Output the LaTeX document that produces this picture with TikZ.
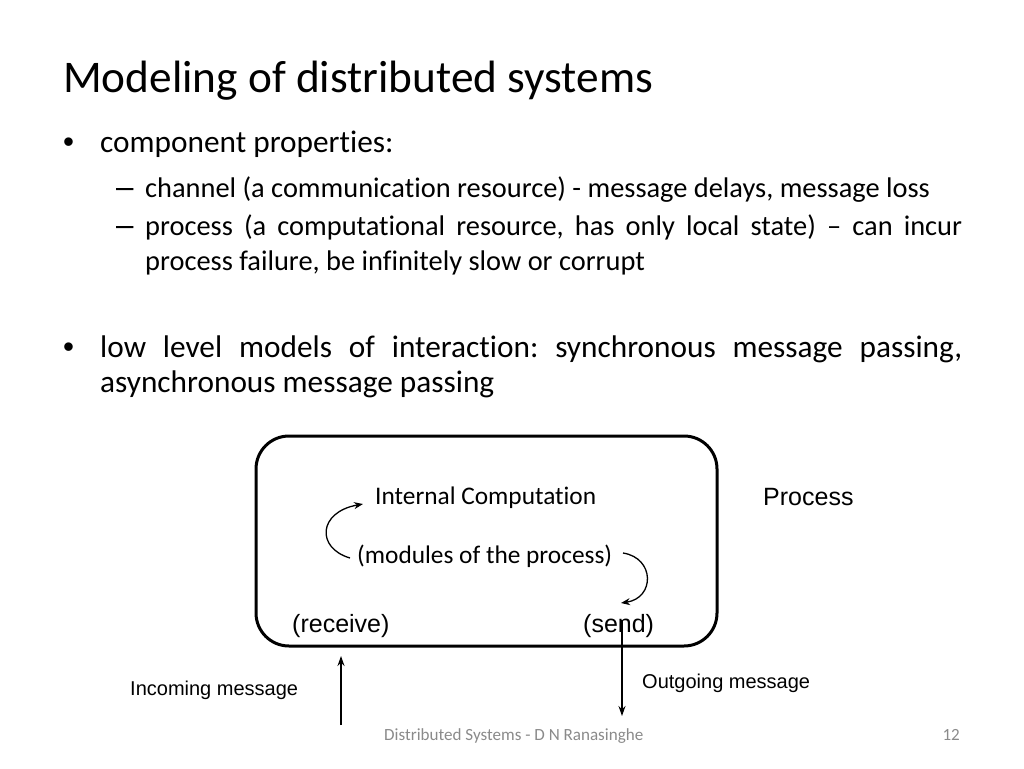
\documentclass[tikz,border=0pt]{standalone}
\usepackage{fontspec}
\setmainfont{Carlito}[Ligatures=NoCommon]
\newfontfamily\arialfont{Liberation Sans}
\usetikzlibrary{arrows.meta}
\definecolor{footgray}{HTML}{8A8A8A}
\hyphenpenalty=10000
\exhyphenpenalty=10000
\tolerance=9999
\frenchspacing
\begin{document}
\begin{tikzpicture}[x=1pt, y=-1pt]
\tikzset{txt/.style = {inner sep=0pt, anchor=base west}}
\tikzset{title/.style = {txt, font=\fontsize{45.3}{52}\selectfont}}
\tikzset{lvlone/.style = {txt, font=\fontsize{31.3}{35}\selectfont}}
\tikzset{lvltwo/.style = {txt, font=\fontsize{28.4}{35}\selectfont}}
\tikzset{bulletmark/.style = {txt, font=\arialfont\fontsize{31.3}{35}\selectfont}}
\tikzset{inner/.style = {txt, font=\fontsize{25.35}{30}\selectfont}}
\tikzset{arial/.style = {txt, font=\arialfont\fontsize{25}{30}\selectfont}}
\tikzset{small/.style = {txt, font=\arialfont\fontsize{20}{24}\selectfont}}
\tikzset{foot/.style = {txt, text=footgray, font=\fontsize{17.07}{20}\selectfont}}
\tikzset{procbox/.style = {draw, line width=3pt, rounded corners=33pt}}
\tikzset{loop/.style = {-{Stealth[length=9pt, width=7pt]}, line width=1.3pt}}
\tikzset{msg/.style = {-{Stealth[length=10pt, width=7pt]}, line width=1.3pt}}
\useasboundingbox (0,0) rectangle (1024,768);
% title and bullets
\node[title](head) at (63,92) {Modeling of distributed systems};
\node[bulletmark](b1) at (63,152) {•};
\node[lvlone](comp) at (100,152) {component properties:};
\node[bulletmark](d1) at (116,197) {–};
\node[lvltwo](chan) at (145,197) {channel (a communication resource) - message delays, message loss};
\node[bulletmark](d2) at (116,235) {–};
\node[lvltwo, text width=817pt, align=justify](proc) at (145,235) {process (a computational resource, has only local state) – can incur process failure, be infinitely slow or corrupt};
\node[bulletmark](b2) at (63,357) {•};
\node[lvlone, text width=862pt, align=justify](models) at (100,357) {low level models of interaction: synchronous message passing, asynchronous message passing};
% process box
\node[procbox, minimum width=461pt, minimum height=210pt](box) at (486.5,541) {};
\node[inner](internal) at (375,504) {Internal Computation};
\node[inner](modules) at (357,563) {(modules of the process)};
\node[arial](receive) at (292,632) {(receive)};
\node[arial](send) at (583,632) {(send)};
\node[arial](process) at (763,505) {Process};
\node[small](incoming) at (130,695) {Incoming message};
\node[small](outgoing) at (642,688) {Outgoing message};
\coordinate (l0) at (350,558);
\coordinate (l1) at (363,504);
\coordinate (r0) at (623,553);
\coordinate (r1) at (621,603);
\draw[loop] (l0) .. controls (316,548) and (318,512) .. (l1);
\draw[loop] (r0) .. controls (655,558) and (655,598) .. (r1);
\coordinate (in0) at (341,725);
\coordinate (in1) at (341,656);
\coordinate (out0) at (622,620);
\coordinate (out1) at (622,716);
\draw[msg] (in0) -- (in1);
\draw[msg] (out0) -- (out1);
% footer
\node[foot](footer) at (384,740) {Distributed Systems - D N Ranasinghe};
\node[foot, anchor=base east](page) at (960,740) {12};
\end{tikzpicture}
\end{document}
